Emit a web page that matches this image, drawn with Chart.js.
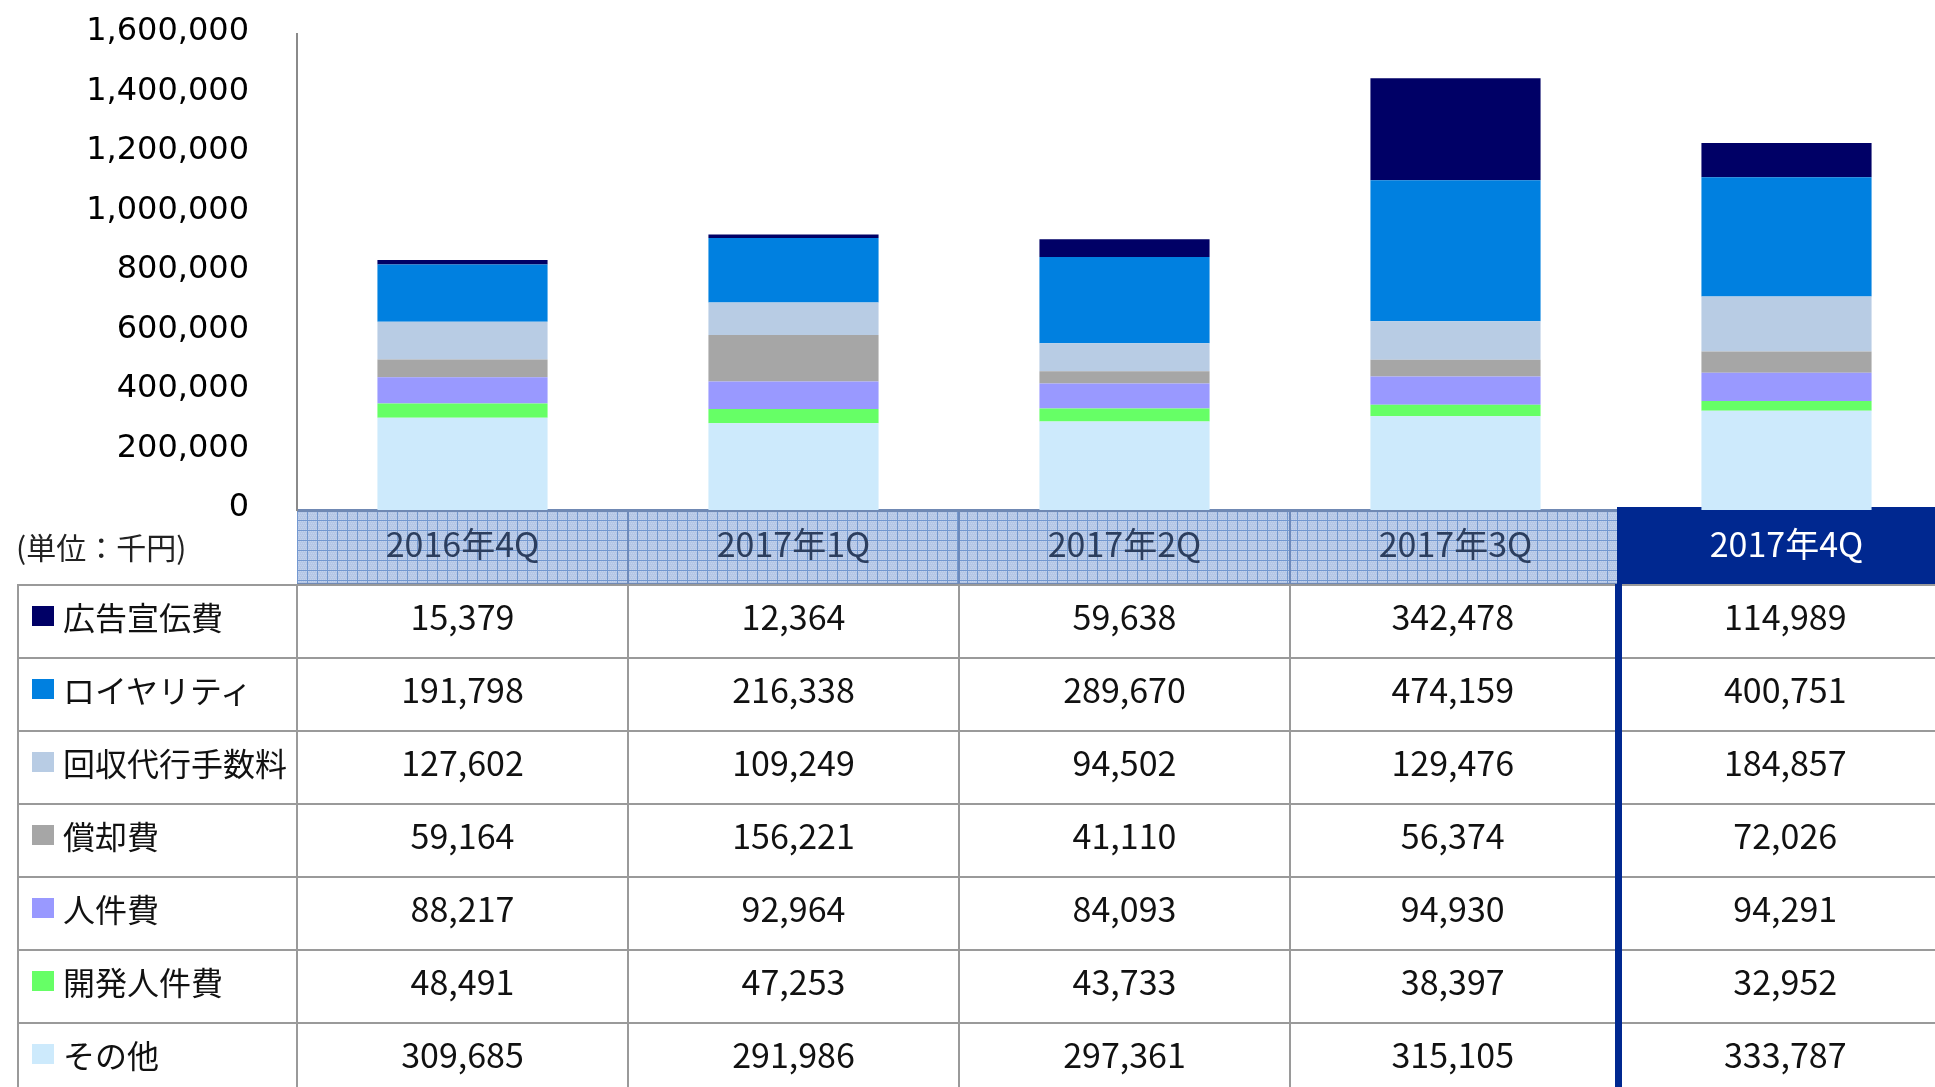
<!DOCTYPE html>
<html lang="ja">
<head>
<meta charset="utf-8">
<title>費用内訳</title>
<script src="https://cdn.jsdelivr.net/npm/chart.js@4.4.1/dist/chart.umd.min.js"></script>
<style>
  html, body { margin: 0; padding: 0; background: #fff; overflow: hidden; }
  #wrap { position: relative; width: 1935px; height: 1087px; overflow: hidden; }
  #chartBox { position: absolute; left: 0; top: 0; }
  #unit { position: absolute; left: 16px; top: 526px; font-family: 'Noto Sans CJK JP', sans-serif; font-size: 30px; color: #222; line-height: 40px; white-space: nowrap; }
  #costTable { position: absolute; left: 17px; top: 584px; width: 1932px; border-collapse: collapse; table-layout: fixed;
    font-family: 'Noto Sans CJK JP', sans-serif; font-size: 34px; color: #111; }
  #costTable tr { height: 73px; }
  #costTable td { border: 2px solid #9a9a9a; padding: 0 0 12px 0; text-align: center; vertical-align: middle; line-height: 40px; }
  #costTable td.name { text-align: left; font-size: 32px; }
  #costTable td.current { border-left: 7px solid #002890; }
  .lab { display: flex; align-items: center; white-space: nowrap; }
  .sw { display: inline-block; width: 22px; height: 20px; margin: 0 9px 0 13px; flex: none; }
</style>
</head>
<body>
<div id="wrap">
  <div id="chartBox"><canvas id="costChart" width="1952" height="585"></canvas></div>
  <div id="unit">(単位：千円)</div>
  <table id="costTable">
    <colgroup>
      <col style="width:279px"><col style="width:331px"><col style="width:331px">
      <col style="width:331px"><col style="width:328px"><col style="width:332px">
    </colgroup>
    <tbody id="tableBody"></tbody>
  </table>
</div>
<script>
// 四半期
const quarters = ['2016年4Q', '2017年1Q', '2017年2Q', '2017年3Q', '2017年4Q'];

// 費用項目 (単位：千円)
const adCost = [15379, 12364, 59638, 342478, 114989];          // 広告宣伝費
const royalty = [191798, 216338, 289670, 474159, 400751];      // ロイヤリティ
const collectionFee = [127602, 109249, 94502, 129476, 184857]; // 回収代行手数料
const amortization = [59164, 156221, 41110, 56374, 72026];     // 償却費
const personnel = [88217, 92964, 84093, 94930, 94291];         // 人件費
const devPersonnel = [48491, 47253, 43733, 38397, 32952];      // 開発人件費
const others = [309685, 291986, 297361, 315105, 333787];       // その他

const itemNames = ['広告宣伝費', 'ロイヤリティ', '回収代行手数料', '償却費', '人件費', '開発人件費', 'その他'];
const itemValues = [adCost, royalty, collectionFee, amortization, personnel, devPersonnel, others];
const itemColors = ['#000066', '#0080e0', '#b8cce4', '#a6a6a6', '#9999ff', '#66ff66', '#cdeafc'];

// 縦軸の目盛り
const yTicks = [0, 200000, 400000, 600000, 800000, 1000000, 1200000, 1400000, 1600000];

const fmt = v => v.toLocaleString('en-US');

// 表 (下段)
const body = document.getElementById('tableBody');
itemNames.forEach((name, i) => {
  const tr = document.createElement('tr');
  const th = document.createElement('td');
  th.className = 'name';
  th.innerHTML = '<div class="lab"><span class="sw" style="background:' + itemColors[i] + '"></span><span>' + name + '</span></div>';
  tr.appendChild(th);
  itemValues[i].forEach((v, j) => {
    const td = document.createElement('td');
    if (j === quarters.length - 1) td.className = 'current';
    td.textContent = fmt(v);
    tr.appendChild(td);
  });
  body.appendChild(tr);
});

// 見出し行の網目
function gridPattern(ctx) {
  const c = document.createElement('canvas');
  c.width = 10; c.height = 10;
  const g = c.getContext('2d');
  g.fillStyle = '#b5c7e6';
  g.fillRect(0, 0, 10, 10);
  g.fillStyle = '#c4d3ec';
  for (let y = 1; y < 10; y += 2) {
    for (let x = (y % 4 === 1 ? 1 : 2); x < 10; x += 2) g.fillRect(x, y, 1, 1);
  }
  g.fillStyle = '#7398d0';
  g.fillRect(0, 0, 10, 1);
  g.fillRect(0, 0, 1, 10);
  return ctx.createPattern(c, 'repeat');
}

const headerBand = {
  id: 'headerBand',
  beforeDraw(chart) {
    const ctx = chart.ctx;
    const x = chart.scales.x;
    const top = chart.chartArea.bottom;
    const h = chart.height - top;
    const step = (x.right - x.left) / quarters.length;
    const lastLeft = x.left + step * (quarters.length - 1) - 4;
    ctx.save();
    ctx.translate(x.left, top);
    ctx.fillStyle = gridPattern(ctx);
    ctx.fillRect(0, 0, lastLeft - x.left, h);
    ctx.restore();
    ctx.save();
    ctx.fillStyle = '#6c89bb';
    for (let i = 1; i < quarters.length - 1; i++) {
      ctx.fillRect(Math.round(x.left + step * i) - 1, top, 2, h);
    }
    ctx.fillStyle = '#7089b4';
    ctx.fillRect(x.left, top - 1, lastLeft - x.left, 3);
    ctx.fillRect(x.left, chart.height - 2, lastLeft - x.left, 2);
    ctx.fillStyle = '#002890';
    ctx.fillRect(lastLeft, top - 3, x.right - lastLeft, h + 3);
    ctx.restore();
  }
};

const datasets = itemNames.map((name, i) => ({
  label: name,
  data: itemValues[i],
  backgroundColor: itemColors[i],
  borderWidth: 0,
  categoryPercentage: 1,
  barPercentage: 0.514
})).reverse();

new Chart(document.getElementById('costChart'), {
  type: 'bar',
  data: { labels: quarters, datasets: datasets },
  plugins: [headerBand],
  options: {
    responsive: false,
    animation: false,
    devicePixelRatio: 1,
    layout: { padding: { top: 34, left: 0, right: 0, bottom: 0 } },
    plugins: {
      legend: { display: false },
      tooltip: { enabled: false }
    },
    scales: {
      x: {
        stacked: true,
        grid: { display: false, drawTicks: false },
        border: { display: false },
        ticks: {
          autoSkip: false,
          maxRotation: 0,
          padding: 14,
          font: { family: "'Noto Sans CJK JP', sans-serif", size: 34 },
          color: c => (c.index === quarters.length - 1 ? '#ffffff' : '#2c3e5e')
        },
        afterFit: s => { s.height = 75; }
      },
      y: {
        stacked: true,
        min: 0,
        max: yTicks[yTicks.length - 1],
        afterBuildTicks: s => { s.ticks = yTicks.map(v => ({ value: v })); },
        grid: { display: false, drawTicks: false },
        border: { display: true, color: '#8a8a8a', width: 2 },
        ticks: {
          padding: 48,
          labelOffset: -2,
          color: '#000',
          font: { family: "'DejaVu Sans', sans-serif", size: 32 },
          callback: v => fmt(v)
        },
        afterFit: s => { s.width = 297; s.paddingTop = 0; s.paddingBottom = 0; }
      }
    }
  }
});
</script>
</body>
</html>
